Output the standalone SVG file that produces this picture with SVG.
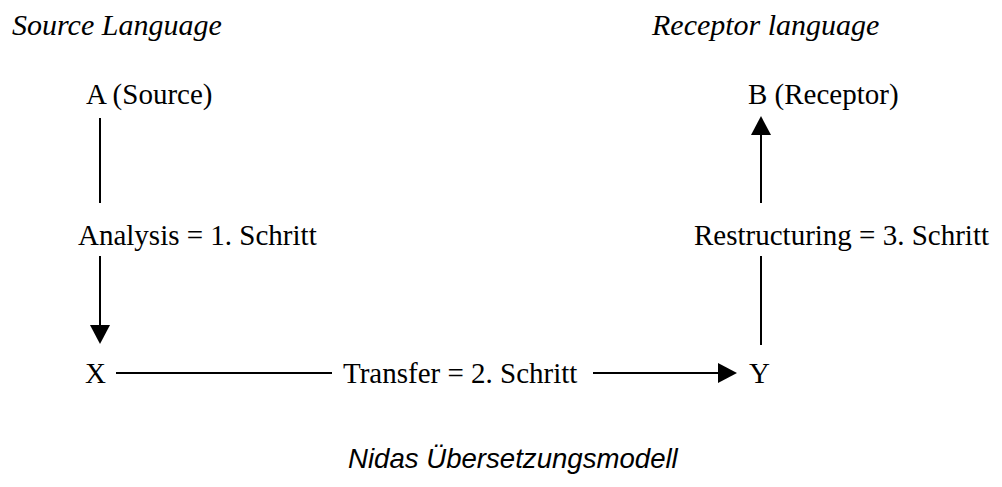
<svg xmlns="http://www.w3.org/2000/svg" width="1002" height="487" viewBox="0 0 1002 487">
  <style>
    .serif { font-family: "Liberation Serif", "Times New Roman", serif; font-size: 29px; fill: #000; }
    .ital { font-style: italic; font-size: 30px; }
    .title { font-family: "Liberation Sans", Arial, sans-serif; font-size: 27.6px; font-style: italic; fill: #000; }
    .edge { fill: none; stroke: #000; stroke-width: 2; }
  </style>
  <defs>
    <marker id="head" markerUnits="userSpaceOnUse" markerWidth="19" markerHeight="20" refX="0" refY="10" orient="auto" overflow="visible">
      <path d="M0,0 L19,10 L0,20 Z" fill="#000"/>
    </marker>
  </defs>

  <rect width="1002" height="487" fill="#fff"/>

  <!-- column headings -->
  <g id="heading-source">
    <text class="serif ital" x="12" y="35">Source Language</text>
  </g>
  <g id="heading-receptor">
    <text class="serif ital" x="652" y="35">Receptor language</text>
  </g>

  <!-- nodes -->
  <g id="node-a">
    <text class="serif" x="86" y="104">A (Source)</text>
  </g>
  <g id="node-b">
    <text class="serif" x="748" y="104">B (Receptor)</text>
  </g>
  <g id="node-x">
    <text class="serif" x="85" y="383">X</text>
  </g>
  <g id="node-y">
    <text class="serif" x="749" y="383">Y</text>
  </g>

  <!-- connectors, each interrupted by its label -->
  <g id="connectors">
    <!-- A to X -->
    <line class="edge" x1="100" y1="118" x2="100" y2="203"/>
    <line class="edge" x1="100" y1="256" x2="100" y2="325" marker-end="url(#head)"/>
    <!-- X to Y -->
    <line class="edge" x1="116" y1="373" x2="332" y2="373"/>
    <line class="edge" x1="593" y1="373" x2="718" y2="373" marker-end="url(#head)"/>
    <!-- Y to B -->
    <line class="edge" x1="761" y1="345" x2="761" y2="256"/>
    <line class="edge" x1="761" y1="203" x2="761" y2="135" marker-end="url(#head)"/>
  </g>

  <!-- connector labels -->
  <g id="edge-labels">
    <text class="serif" x="78" y="245">Analysis = 1. Schritt</text>
    <text class="serif" x="343" y="383">Transfer = 2. Schritt</text>
    <text class="serif" x="694" y="245">Restructuring = 3. Schritt</text>
  </g>

  <!-- caption -->
  <g id="caption">
    <text class="title" x="348" y="468">Nidas Übersetzungsmodell</text>
  </g>
</svg>
